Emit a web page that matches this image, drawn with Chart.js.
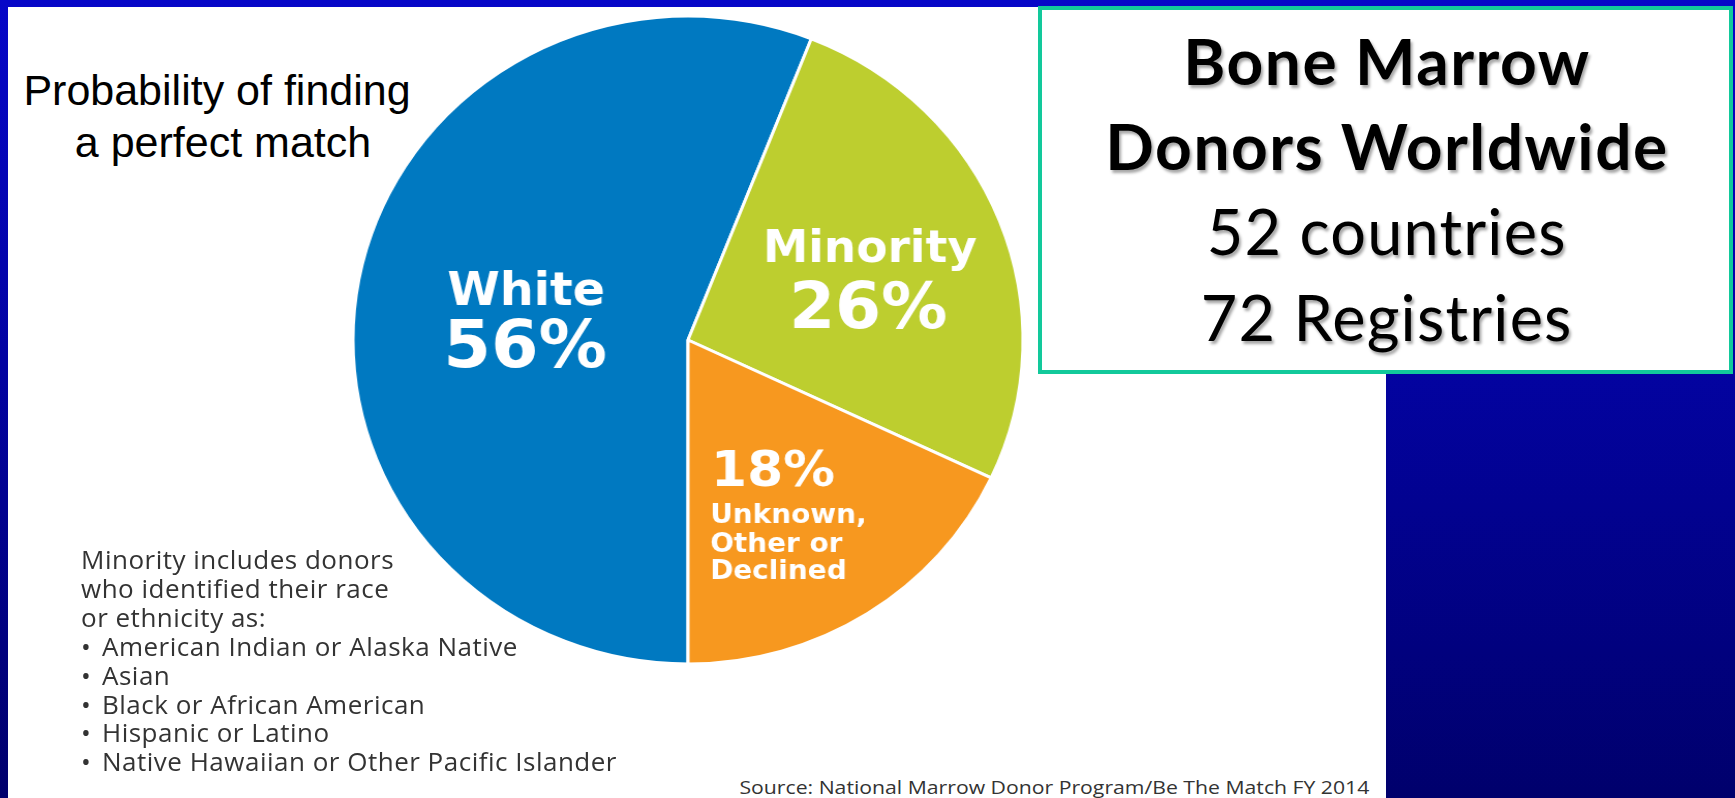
<!DOCTYPE html>
<html>
<head>
<meta charset="utf-8">
<script src="https://cdn.jsdelivr.net/npm/chart.js@4/dist/chart.umd.min.js"></script>
<style>
  html, body { margin: 0; padding: 0; }
  body {
    width: 1735px; height: 798px; overflow: hidden; position: relative;
    background: linear-gradient(180deg, #0707c8 0%, #0303a2 45%, #00006c 100%);
  }
  #panel { position: absolute; left: 8px; top: 7px; width: 1378px; height: 791px; background: #ffffff; }
  .t { position: absolute; white-space: nowrap; }
  #pieWrap {
    position: absolute; left: 348px; top: 0px; width: 680px; height: 680px;
    transform: scaleX(1.034); transform-origin: 340px 340px;
  }
  #box {
    position: absolute; left: 1038px; top: 6px; width: 687px; height: 360px;
    border: 4px solid #12c99b; background: #ffffff;
  }
  .boxline {
    position: absolute; left: 0; width: 100%; text-align: center; color: #000;
    font-family: Lato, "Noto Sans", sans-serif; line-height: 1;
    text-shadow: 2px 3px 3px rgba(0,0,0,0.35);
  }
  .note { font-family: "Open Sans", "Noto Sans", sans-serif; font-size: 26px; line-height: 1; color: #333333; letter-spacing: 0.5px; }
  .note .bullet { display: inline-block; width: 21px; }
  .head { font-family: "Liberation Sans", Arial, sans-serif; font-size: 43px; line-height: 1; color: #000; text-align: center; width: 420px; }
</style>
</head>
<body>
<div id="panel"></div>

<div class="t head" style="top:69px;left:7px;">Probability of finding</div>
<div class="t head" style="top:121px;left:13px;">a perfect match</div>

<div id="pieWrap"><canvas id="pie" width="680" height="680"></canvas></div>

<div id="notes"></div>

<div class="t" id="source" style="font-family:'Open Sans','Noto Sans',sans-serif;font-size:19px;line-height:1;color:#333;transform-origin:100% 0;">Source: National Marrow Donor Program/Be The Match FY 2014</div>

<div id="box">
  <div class="boxline" style="top:19px;font-weight:700;font-size:64px;letter-spacing:1.5px;padding-left:1.5px;">Bone Marrow</div>
  <div class="boxline" style="top:104px;font-weight:700;font-size:64px;letter-spacing:1.5px;padding-left:1.5px;">Donors Worldwide</div>
  <div class="boxline" style="top:189px;font-weight:400;font-size:63px;letter-spacing:1.2px;padding-left:1.2px;">52 countries</div>
  <div class="boxline" style="top:275px;font-weight:400;font-size:63px;letter-spacing:1.2px;padding-left:1.2px;">72 Registries</div>
</div>

<script>
// Donor share by race / ethnicity (percent)
const categories = ['White', 'Minority', ['Unknown,', 'Other or', 'Declined']];
const shares = [56, 26, 18];
const sliceColors = ['#0079c1', '#bdce2f', '#f7981f'];

// Groups counted as "Minority"
const minorityIntro = ['Minority includes donors', 'who identified their race', 'or ethnicity as:'];
const minorityGroups = [
  'American Indian or Alaska Native',
  'Asian',
  'Black or African American',
  'Hispanic or Latino',
  'Native Hawaiian or Other Pacific Islander'
];

// footnote block
(function () {
  const notes = document.getElementById('notes');
  const rows = minorityIntro.map(t => ({ bullet: false, text: t }))
    .concat(minorityGroups.map(g => ({ bullet: true, text: g })));
  rows.forEach((row, i) => {
    const d = document.createElement('div');
    d.className = 't note';
    if (row.bullet) {
      const b = document.createElement('span');
      b.className = 'bullet';
      b.textContent = '\u2022';
      d.appendChild(b);
    }
    d.appendChild(document.createTextNode(row.text));
    d.style.left = '81px';
    d.style.top = (569 - 23 + i * 28.9) + 'px';
    notes.appendChild(d);
  });
  const src = document.getElementById('source');
  const w = src.getBoundingClientRect().width;
  const target = 630;
  src.style.left = (1369 - w) + 'px';
  src.style.top = '778px';
  src.style.transform = 'scaleX(' + (target / w).toFixed(4) + ')';
})();

// In-slice label placement, in units of the pie radius from its centre
const labelLayout = [
  { align: 'center', name: { dx: -0.483, dy: [-0.109], size: 46 }, value: { dx: -0.486, dy: 0.084, size: 66 } },
  { align: 'center', name: { dx: 0.543, dy: [-0.242], size: 44 }, value: { dx: 0.538, dy: -0.037, size: 64 } },
  { align: 'left',   name: { dx: 0.066, dy: [0.564, 0.654, 0.738], size: 27 }, value: { dx: 0.069, dy: 0.452, size: 50 } }
];

const sliceLabels = {
  id: 'sliceLabels',
  afterDatasetsDraw(chart) {
    const ctx = chart.ctx;
    const meta = chart.getDatasetMeta(0);
    const values = chart.data.datasets[0].data;
    meta.data.forEach((arc, i) => {
      const p = arc.getProps(['x', 'y', 'outerRadius'], true);
      const R = p.outerRadius;
      const lay = labelLayout[i];
      const raw = chart.data.labels[i];
      const nameLines = Array.isArray(raw) ? raw : [raw];
      ctx.save();
      ctx.fillStyle = '#ffffff';
      ctx.textAlign = lay.align;
      ctx.textBaseline = 'alphabetic';
      ctx.font = 'bold ' + lay.value.size + 'px "DejaVu Sans", sans-serif';
      ctx.fillText(values[i] + '%', p.x + lay.value.dx * R, p.y + lay.value.dy * R);
      ctx.font = 'bold ' + lay.name.size + 'px "DejaVu Sans", sans-serif';
      nameLines.forEach((ln, k) => {
        ctx.fillText(ln, p.x + lay.name.dx * R, p.y + lay.name.dy[k] * R);
      });
      ctx.restore();
    });
  }
};

new Chart(document.getElementById('pie'), {
  type: 'pie',
  data: {
    labels: categories,
    datasets: [{
      data: shares,
      backgroundColor: sliceColors,
      borderColor: '#ffffff',
      borderWidth: 3,
      radius: 324
    }]
  },
  options: {
    responsive: false,
    devicePixelRatio: 1,
    animation: false,
    rotation: 180,
    layout: { padding: 0 },
    plugins: { legend: { display: false }, tooltip: { enabled: false } }
  },
  plugins: [sliceLabels]
});
</script>
</body>
</html>
